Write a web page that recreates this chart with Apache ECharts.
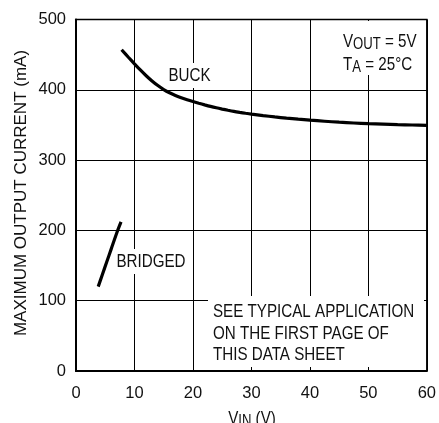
<!DOCTYPE html>
<html>
<head>
<meta charset="utf-8">
<script src="https://cdn.jsdelivr.net/npm/echarts@6/dist/echarts.min.js"></script>
<style>
  html, body { margin: 0; padding: 0; background: #fff; }
  #chart { width: 439px; height: 423px; }
</style>
</head>
<body>
<div id="chart"></div>
<script>
// Input voltage (V) and maximum output current (mA) for each operating mode
const buckVin = [7.8, 9, 10, 11, 12, 13, 14, 15, 16, 17, 18, 19, 20, 21, 22, 23, 24, 25, 26, 27, 28, 29, 30,
  32, 34, 36, 38, 40, 42.5, 45, 47.5, 50, 52.5, 55, 57.5, 60];
const buckCurrent = [457, 446, 437, 428.2, 420, 412.6, 406, 400.4, 395.8, 392, 388.8, 385.9, 383.3, 380.9, 378.6,
  376.4, 374.4, 372.6, 370.9, 369.3, 367.9, 366.6, 365.4,
  363.3, 361.4, 359.7, 358.2, 356.8, 355.3, 353.9, 352.8, 351.8, 351.1, 350.4, 349.9, 349.5];
const bridgedVin = [3.8, 4.5, 5.25, 6.0, 7.0, 7.7];
const bridgedCurrent = [120, 137, 155, 173, 197, 212];

const xTicks = [0, 10, 20, 30, 40, 50, 60];
const yTicks = [0, 100, 200, 300, 400, 500];

const FONT = "'Liberation Sans', Arial, sans-serif";
const INK = '#111';
const NARROW = 0.82; // horizontal squeeze for the condensed lettering

function pairs(xs, ys) { return xs.map((x, i) => [x, ys[i]]); }

// condensed text element anchored at (x, y)
function label(x, y, text, align, extra) {
  return {
    type: 'text', z: 4, x: x, y: y, scaleX: NARROW,
    style: Object.assign({
      x: 0, y: 0, text: text, font: '18.5px ' + FONT, fill: INK,
      align: align || 'left', verticalAlign: 'middle'
    }, extra || {})
  };
}

// text with a lowered, smaller subscript part
function subText(x, y, main, sub, rest, align, subShift) {
  return {
    type: 'text', z: 4, x: x, y: y, scaleX: NARROW,
    style: {
      x: 0, y: 0, align: align || 'left', verticalAlign: 'middle', fill: INK,
      text: '{m|' + main + '}{s|' + sub + '}{m|' + rest + '}',
      rich: {
        m: { fontFamily: FONT, fontSize: 18.5, lineHeight: 22, fill: INK },
        s: { fontFamily: FONT, fontSize: 16, lineHeight: 22 - 2 * subShift, fill: INK, verticalAlign: 'bottom' }
      }
    }
  };
}

const chart = echarts.init(document.getElementById('chart'), null, { renderer: 'canvas' });

const option = {
  animation: false,
  backgroundColor: '#fff',
  grid: {
    left: 76, right: 12, top: 19.5, bottom: 52,
    show: true, borderColor: '#000', borderWidth: 1.5, backgroundColor: 'transparent'
  },
  xAxis: {
    type: 'value',
    min: xTicks[0], max: xTicks[xTicks.length - 1], interval: 10,
    axisLine: { show: true, onZero: false, lineStyle: { color: '#000', width: 2 } },
    axisTick: { show: false },
    splitLine: { show: true, lineStyle: { color: '#000', width: 1 } },
    axisLabel: { color: INK, fontFamily: FONT, fontSize: 16.5, margin: 13.5 }
  },
  yAxis: {
    type: 'value',
    min: yTicks[0], max: yTicks[yTicks.length - 1], interval: 100,
    axisLine: { show: true, onZero: false, lineStyle: { color: '#000', width: 2 } },
    axisTick: { show: false },
    splitLine: { show: true, lineStyle: { color: '#000', width: 1 } },
    axisLabel: { color: INK, fontFamily: FONT, fontSize: 16.5, margin: 10 }
  },
  series: [
    {
      name: 'BUCK', type: 'line', data: pairs(buckVin, buckCurrent),
      smooth: 0.3, showSymbol: false, z: 5,
      lineStyle: { color: '#000', width: 3.2 }
    },
    {
      name: 'BRIDGED', type: 'line', data: pairs(bridgedVin, bridgedCurrent),
      smooth: 0.3, showSymbol: false, z: 5,
      lineStyle: { color: '#000', width: 3.2 }
    }
  ],
  graphic: {
    elements: [
      // note box for the application reference
      { type: 'rect', z: 3, shape: { x: 208, y: 296, width: 216, height: 71 }, style: { fill: '#fff' } },
      label(213, 312, 'SEE TYPICAL APPLICATION'),
      label(213, 333.5, 'ON THE FIRST PAGE OF'),
      label(213, 355, 'THIS DATA SHEET'),
      // test conditions box
      { type: 'rect', z: 3, shape: { x: 338, y: 21, width: 86, height: 54 }, style: { fill: '#fff' } },
      subText(343, 42, 'V', 'OUT', ' = 5V', 'left', 1.5),
      subText(343, 64.5, 'T', 'A', ' = 25°C', 'left', 4),
      // curve labels
      label(189.5, 75.5, 'BUCK', 'center', { backgroundColor: '#fff', padding: [3, 3] }),
      label(151, 261.5, 'BRIDGED', 'center', { backgroundColor: '#fff', padding: [3, 3] }),
      // axis titles
      {
        type: 'text', z: 4, x: 21.5, y: 193, rotation: Math.PI / 2,
        style: { x: 0, y: 0, text: 'MAXIMUM OUTPUT CURRENT (mA)', font: '17px ' + FONT, fill: INK, align: 'center', verticalAlign: 'middle' }
      },
      subText(252, 419, 'V', 'IN', ' (V)', 'center', 2.5)
    ]
  }
};

chart.setOption(option);
</script>
</body>
</html>
